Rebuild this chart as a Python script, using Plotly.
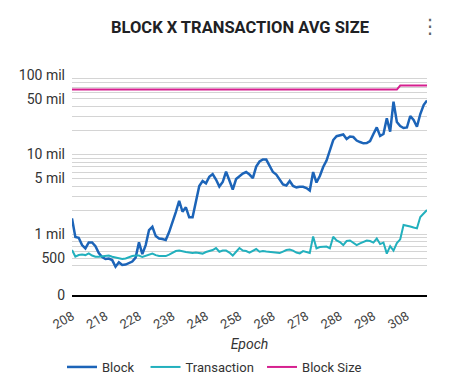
import plotly.graph_objects as go

# ---- data ----
epochs = list(range(208, 315))

block = [
    1575, 917, 899, 727, 661, 786, 786, 706, 577, 514,
    485, 492, 471, 388, 441, 408, 413, 432, 451, 506,
    786, 560, 727, 1123, 1235, 944, 878, 865, 840, 1060,
    1375, 1891, 2624, 1908, 2167, 1622, 1622, 2677, 4017, 4642,
    4343, 5258, 5684, 4850, 3958, 4510, 6075, 4710, 3628, 4918,
    5365, 5768, 6025, 5600, 5060, 7063, 8166, 8650, 8650, 7063,
    6025, 5600, 4918, 4194, 4074, 4642, 4017, 3868, 3936, 3936,
    3791, 3525, 6025, 4445, 5365, 6962, 8406, 11390, 15220, 16990,
    17340, 17850, 15670, 16840, 16600, 15000, 14360, 13830, 13950, 14790,
    18110, 21980, 17090, 18110, 28530, 19360, 46140, 25640, 22810, 21530,
    21870, 30500, 27170, 22380, 32300, 41940, 47760,
]

transaction = [
    629, 521, 544, 552, 544, 572, 537, 518, 518, 521,
    529, 537, 518, 506, 492, 485, 492, 514, 529, 537,
    537, 514, 529, 544, 568, 544, 529, 529, 529, 552,
    577, 611, 620, 602, 594, 585, 577, 585, 577, 568,
    594, 611, 629, 667, 599, 620, 620, 585, 537, 599,
    667, 620, 611, 585, 620, 648, 599, 611, 602, 594,
    599, 585, 577, 602, 629, 638, 620, 585, 572, 611,
    594, 577, 930, 661, 686, 692, 696, 661, 925, 833,
    793, 727, 817, 829, 782, 727, 764, 793, 829, 817,
    782, 878, 749, 782, 568, 706, 620, 770, 858, 1298,
    1279, 1243, 1207, 1180, 1636, 1837, 2004,
]

block_size = [
    65536, 65536, 65536, 65536, 65536, 65536, 65536, 65536, 65536, 65536,
    65536, 65536, 65536, 65536, 65536, 65536, 65536, 65536, 65536, 65536,
    65536, 65536, 65536, 65536, 65536, 65536, 65536, 65536, 65536, 65536,
    65536, 65536, 65536, 65536, 65536, 65536, 65536, 65536, 65536, 65536,
    65536, 65536, 65536, 65536, 65536, 65536, 65536, 65536, 65536, 65536,
    65536, 65536, 65536, 65536, 65536, 65536, 65536, 65536, 65536, 65536,
    65536, 65536, 65536, 65536, 65536, 65536, 65536, 65536, 65536, 65536,
    65536, 65536, 65536, 65536, 65536, 65536, 65536, 65536, 65536, 65536,
    65536, 65536, 65536, 65536, 65536, 65536, 65536, 65536, 65536, 65536,
    65536, 65536, 65536, 65536, 65536, 65536, 65536, 65536, 73728, 73728,
    73728, 73728, 73728, 73728, 73728, 73728, 73728,
]

series_names = ["Block", "Transaction", "Block Size"]

x_tick_vals = [208, 218, 228, 238, 248, 258, 268, 278, 288, 298, 308]

grid_vals = [400, 500, 600, 700, 800, 900,
             1000, 2000, 3000, 4000, 5000, 6000, 7000, 8000, 9000,
             10000, 20000, 30000, 40000, 50000, 60000, 70000, 80000, 90000,
             100000]
labelled = {500: "500", 1000: "1 mil", 5000: "5 mil", 10000: "10 mil",
            50000: "50 mil", 100000: "100 mil"}

# ---- layout helpers ----
Y_LOG_MIN = 2.2338
Y_LOG_MAX = 5.0
zero_pos = 10 ** Y_LOG_MIN * 1.002

tickvals = [zero_pos] + grid_vals
ticktext = ["0"] + [labelled.get(v, "") for v in grid_vals]

FONT = "Roboto"
W, H = 451, 382
L, R, T, B = 72, 24, 75, 87
PW, PH = W - L - R, H - T - B


def px_x(px):
    return (px - L) / PW


def px_y(py):
    return (H - B - py) / PH


NBSP = "\u00a0"  # small gaps after legend labels

fig = go.Figure()
fig.add_trace(go.Scatter(x=epochs, y=block, name=series_names[0] + NBSP * 2, mode="lines",
                         line=dict(color="#1c64b8", width=2.5)))
fig.add_trace(go.Scatter(x=epochs, y=transaction, name=series_names[1] + NBSP, mode="lines",
                         line=dict(color="#22b0bd", width=2)))
fig.add_trace(go.Scatter(x=epochs, y=block_size, name=series_names[2], mode="lines",
                         line=dict(color="#d6208f", width=2)))

fig.update_layout(
    width=W, height=H,
    margin=dict(l=L, r=R, t=T, b=B, autoexpand=False),
    paper_bgcolor="white", plot_bgcolor="white",
    font=dict(family=FONT, color="#333333"),
    title=dict(text="<b>BLOCK X TRANSACTION AVG SIZE</b>",
               x=240 / W, xanchor="center", y=1 - 27 / H, yanchor="middle",
               font=dict(family=FONT, size=16.5, color="#202124")),
    showlegend=True,
    legend=dict(orientation="h", x=px_x(62), xanchor="left", y=px_y(367), yanchor="middle",
                font=dict(family=FONT, size=13, color="#333333"),
                bgcolor="rgba(0,0,0,0)", borderwidth=0),
    xaxis=dict(range=[208, 314], tickmode="array", tickvals=x_tick_vals,
               tickangle=-30, showgrid=False, zeroline=False, automargin=False,
               showline=True, linecolor="#000000", linewidth=1.5, ticks="",
               ticklabelstandoff=7,
               tickfont=dict(family=FONT, size=13, color="#444444"),
               title=dict(text="Epoch", standoff=8,
                          font=dict(family=FONT, size=14, color="#333333", style="italic"))),
    yaxis=dict(type="log", range=[Y_LOG_MIN, Y_LOG_MAX], tickmode="array",
               tickvals=tickvals, ticktext=ticktext, showgrid=True, automargin=False,
               gridcolor="#d4d4d4", gridwidth=1, zeroline=False, showline=False,
               ticks="", ticklabelstandoff=6,
               tickfont=dict(family=FONT, size=14, color="#333333")),
    annotations=[dict(text="⋮", xref="paper", yref="paper",
                      x=px_x(430), y=px_y(26),
                      showarrow=False, xanchor="center", yanchor="middle",
                      font=dict(family="DejaVu Sans", size=20, color="#5f6368"))],
)

fig.write_html("out.html", config={"displayModeBar": False},
               post_script="document.body.style.margin='0';")
